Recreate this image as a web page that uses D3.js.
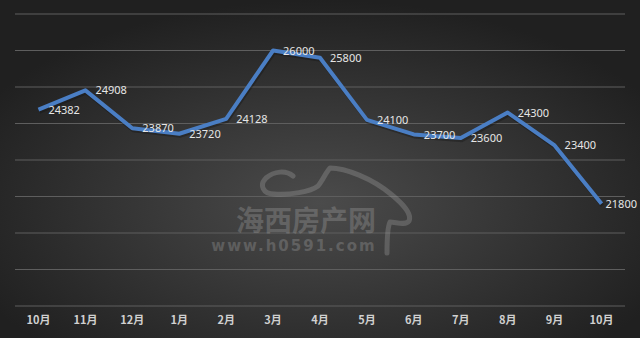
<!DOCTYPE html>
<html>
<head>
<meta charset="utf-8">
<script src="https://cdn.jsdelivr.net/npm/d3@7"></script>
<style>
  body { margin: 0; background: #2b2b2b; }
  svg { display: block; }
</style>
</head>
<body>
<div id="container"></div>
<script>
// chart data
var months = ["10月", "11月", "12月", "1月", "2月", "3月", "4月", "5月", "6月", "7月", "8月", "9月", "10月"];
var prices = [24382, 24908, 23870, 23720, 24128, 26000, 25800, 24100, 23700, 23600, 24300, 23400, 21800];
var yTicks = [19000, 20000, 21000, 22000, 23000, 24000, 25000, 26000, 27000];

var width = 640, height = 338;
var margin = {top: 14, right: 15, bottom: 32, left: 15};

var svg = d3.select("#container")
  .append("svg")
  .attr("width", width)
  .attr("height", height);

// background gradient
var defs = svg.append("defs");
var grad = defs.append("radialGradient")
  .attr("id", "bg")
  .attr("cx", "50%").attr("cy", "60%").attr("r", "60%");
grad.append("stop").attr("offset", "0%").attr("stop-color", "#4b4b4b");
grad.append("stop").attr("offset", "100%").attr("stop-color", "#202020");

svg.append("rect")
  .attr("width", width)
  .attr("height", height)
  .attr("fill", "url(#bg)");

var x = d3.scaleBand()
  .domain(d3.range(months.length))
  .range([margin.left, width - margin.right]);

var y = d3.scaleLinear()
  .domain([19000, 27000])
  .range([height - margin.bottom, margin.top]);

// gridlines
svg.append("g")
  .selectAll("line")
  .data(yTicks)
  .enter().append("line")
  .attr("x1", margin.left)
  .attr("x2", width - margin.right)
  .attr("y1", function(d) { return y(d); })
  .attr("y2", function(d) { return y(d); })
  .attr("stroke", "#5e5e5e")
  .attr("stroke-width", 1);

// watermark (logo + site name)
var wm = svg.append("g").attr("opacity", 0.24).attr("fill", "#c4c4c4");
wm.append("path")
  .attr("d", "M293,176 C286,170 274,171 266,178 C259,185 263,194 274,194 C290,195 310,192 318,186 C323,180 326,172 330,168 C345,168 372,178 392,195 C404,205 412,214 409,221 C405,226 396,222 390,222 C387,228 387,240 387,253")
  .attr("fill", "none")
  .attr("stroke", "#c4c4c4")
  .attr("stroke-width", 5)
  .attr("stroke-linecap", "round")
  .attr("stroke-linejoin", "round");
wm.append("text")
  .attr("x", 306).attr("y", 231)
  .attr("text-anchor", "middle")
  .style("font-family", "'Noto Sans CJK SC', sans-serif")
  .style("font-size", "28px")
  .style("font-weight", "bold")
  .text("海西房产网");
wm.append("text")
  .attr("x", 294).attr("y", 251)
  .attr("text-anchor", "middle")
  .style("font-family", "'DejaVu Sans', sans-serif")
  .style("font-size", "15px")
  .style("font-weight", "bold")
  .style("letter-spacing", "2px")
  .text("www.h0591.com");

// x axis labels
svg.append("g")
  .attr("transform", "translate(0," + (height - margin.bottom) + ")")
  .call(d3.axisBottom(x).tickSize(0).tickPadding(10).tickFormat(function(i) { return months[i]; }))
  .call(function(g) { g.select(".domain").remove(); })
  .selectAll("text")
  .attr("fill", "#d0d0d0")
  .style("font-family", "'Noto Sans CJK SC', sans-serif")
  .style("font-size", "11px")
  .style("font-weight", "bold");

// line
var line = d3.line()
  .x(function(d, i) { return x(i) + x.bandwidth() / 2; })
  .y(function(d) { return y(d); });

svg.append("path")
  .datum(prices)
  .attr("d", line)
  .attr("fill", "none")
  .attr("stroke", "#111")
  .attr("stroke-opacity", 0.35)
  .attr("stroke-width", 4)
  .attr("transform", "translate(1,2)");

svg.append("path")
  .datum(prices)
  .attr("d", line)
  .attr("fill", "none")
  .attr("stroke", "#4a7ec4")
  .attr("stroke-width", 4)
  .attr("stroke-linejoin", "round");

// data labels, to the right of each point, kept inside the chart
svg.append("g")
  .selectAll("text")
  .data(prices)
  .enter().append("text")
  .attr("y", function(d) { return y(d); })
  .attr("dy", "0.37em")
  .attr("fill", "#e6e6e6")
  .style("font-family", "'Noto Sans', sans-serif")
  .style("font-size", "11px")
  .text(function(d) { return d; })
  .attr("x", function(d, i) {
    var px = x(i) + x.bandwidth() / 2 + 10;
    var w = this.getComputedTextLength();
    return Math.min(px, width - w - 3);
  });
</script>
</body>
</html>
